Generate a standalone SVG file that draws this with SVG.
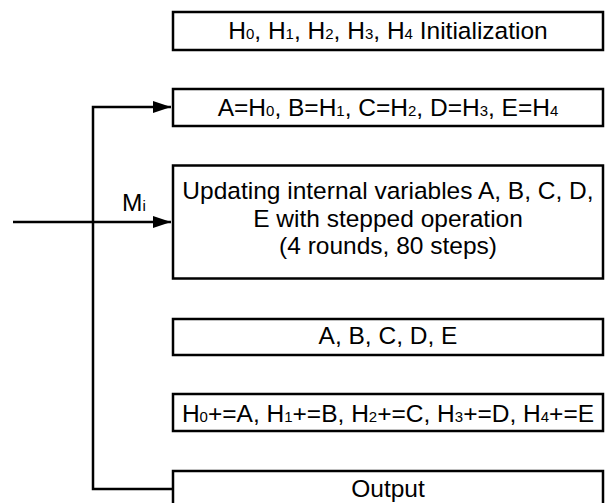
<svg xmlns="http://www.w3.org/2000/svg" width="606" height="503" viewBox="0 0 606 503">
<defs>
<style>
.box{fill:#fff;stroke:#000;stroke-width:2.5}
.t{font-family:"Liberation Sans",Arial,sans-serif;font-size:24.5px;fill:#000;text-anchor:middle}
.s{font-size:15px}
.c{fill:none;stroke:#000;stroke-width:2.5}
</style>
<marker id="ah" markerWidth="18" markerHeight="12" refX="18" refY="6" orient="auto" markerUnits="userSpaceOnUse">
<path d="M0,0 L18,6 L0,12 Z" fill="#000"/>
</marker>
</defs>
<rect width="606" height="503" fill="#fff"/>
<g id="connectors">
<path class="c" d="M173,489 H93 V107 H171" marker-end="url(#ah)"/>
<path class="c" d="M13,222 H171" marker-end="url(#ah)"/>
<text class="t" x="122" y="211" style="text-anchor:start">M<tspan class="s">i</tspan></text>
</g>
<g id="init">
<rect class="box" x="173" y="12" width="430" height="38"/>
<text class="t" x="388" y="39">H<tspan class="s">0</tspan>, H<tspan class="s">1</tspan>, H<tspan class="s">2</tspan>, H<tspan class="s">3</tspan>, H<tspan class="s">4</tspan> Initialization</text>
</g>
<g id="assign">
<rect class="box" x="173" y="89" width="430" height="37"/>
<text class="t" x="388" y="115.5">A=H<tspan class="s">0</tspan>, B=H<tspan class="s">1</tspan>, C=H<tspan class="s">2</tspan>, D=H<tspan class="s">3</tspan>, E=H<tspan class="s">4</tspan></text>
</g>
<g id="update">
<rect class="box" x="173" y="165.5" width="430" height="113"/>
<text class="t" x="388" y="199">Updating internal variables A, B, C, D,</text>
<text class="t" x="388" y="226.5">E with stepped operation</text>
<text class="t" x="388" y="253.5">(4 rounds, 80 steps)</text>
</g>
<g id="vars">
<rect class="box" x="173" y="319" width="430" height="36"/>
<text class="t" x="388" y="344">A, B, C, D, E</text>
</g>
<g id="add">
<rect class="box" x="173" y="394" width="430" height="37"/>
<text class="t" x="388" y="422">H<tspan class="s">0</tspan>+=A, H<tspan class="s">1</tspan>+=B, H<tspan class="s">2</tspan>+=C, H<tspan class="s">3</tspan>+=D, H<tspan class="s">4</tspan>+=E</text>
</g>
<g id="output">
<rect class="box" x="173" y="471" width="430" height="50"/>
<text class="t" x="388" y="497">Output</text>
</g>
</svg>
